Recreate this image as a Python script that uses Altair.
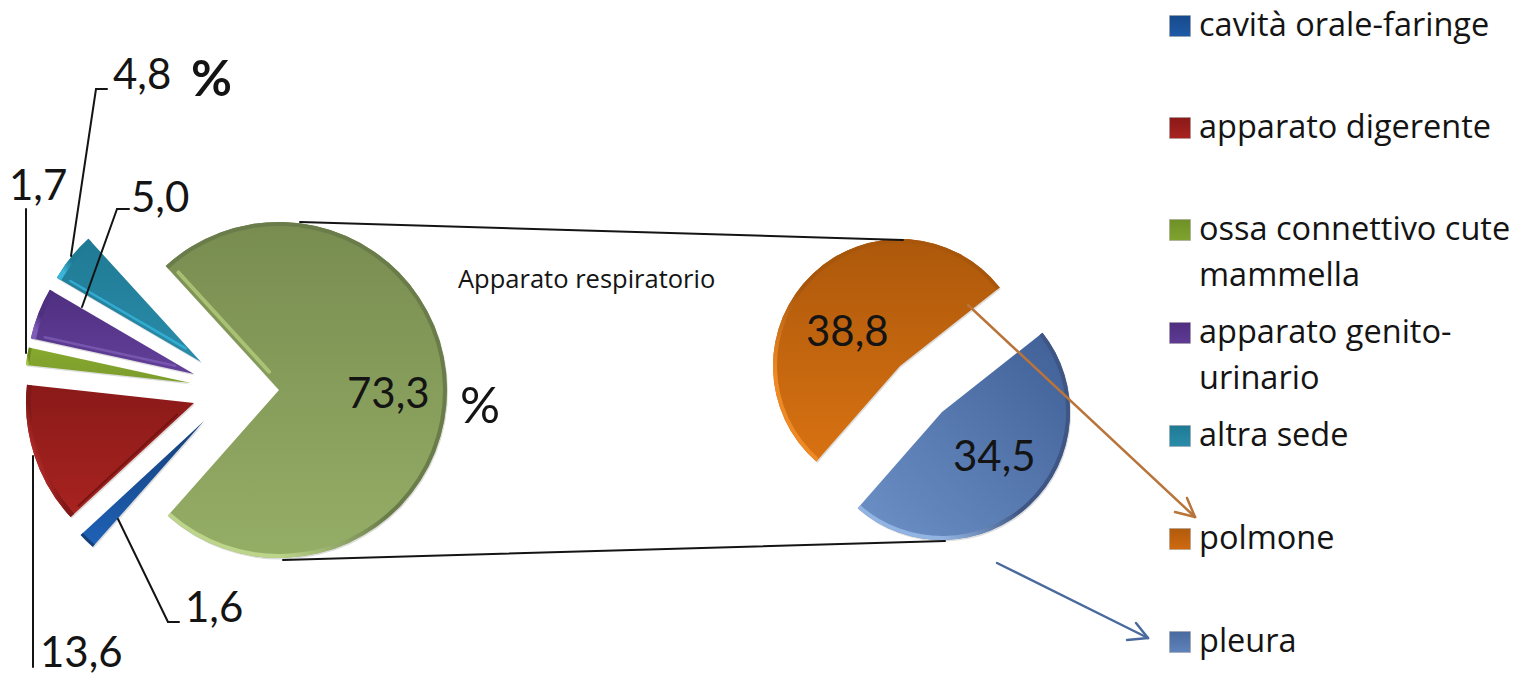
import math
import altair as alt
import pandas as pd

# Main pie: share of cases by site, percent
main_sites = ["apparato respiratorio", "cavità orale-faringe", "apparato digerente",
              "ossa connettivo cute mammella", "apparato genito-urinario", "altra sede"]
main_values = [73.3, 1.6, 13.6, 1.7, 5.0, 4.8]

# Secondary pie: breakdown of the respiratory slice
sub_sites = ["polmone", "pleura"]
sub_values = [38.8, 34.5]

legend_lines = [["cavità orale-faringe"], ["apparato digerente"],
                ["ossa connettivo cute", "mammella"], ["apparato genito-", "urinario"],
                ["altra sede"], ["polmone"], ["pleura"]]

FONT = "Lato"
WIDE_FONT = "Open Sans"
INK = "#141414"


def fmt(v):
    return f"{v:.1f}".replace(".", ",")


def grad(top, bottom, x1=0.0, y1=0.0, x2=0.0, y2=1.0):
    return {"gradient": "linear", "x1": x1, "y1": y1, "x2": x2, "y2": y2,
            "stops": [{"offset": 0, "color": top}, {"offset": 1, "color": bottom}]}


def rim_grad(dark, light):
    return {"gradient": "linear", "x1": 1, "y1": 0, "x2": 0, "y2": 1,
            "stops": [{"offset": 0, "color": dark},
                      {"offset": 0.55, "color": dark},
                      {"offset": 0.8, "color": light},
                      {"offset": 1, "color": light}]}


def segment(x, y, x2, y2, color=INK, width=2.0, opacity=1.0):
    return alt.Chart(pd.DataFrame({"k": [0]})).mark_rule(
        color=color, strokeWidth=width, opacity=opacity, strokeCap="round"
    ).encode(x=alt.value(x), y=alt.value(y), x2=alt.value(x2), y2=alt.value(y2))


def label(text, x, y, size, weight="normal", align="left", font=FONT):
    return alt.Chart(pd.DataFrame({"t": [text]})).mark_text(
        font=font, fontSize=size, fontWeight=weight, align=align,
        baseline="middle", color=INK
    ).encode(x=alt.value(x), y=alt.value(y), text="t:N")


def wedge(name, value, start_deg, sweep_deg, cx, cy, r, look):
    """One exploded slice: soft shadow, body, rim bevel and a lit straight edge."""
    a0, a1 = math.radians(start_deg), math.radians(start_deg + sweep_deg)
    df = pd.DataFrame({"site": [name], "value": [value], "a0": [a0], "a1": [a1]})
    theta = alt.Theta("a0:Q", scale=None, stack=None)
    theta2 = alt.Theta2("a1:Q")
    pos = dict(x=alt.value(cx), y=alt.value(cy), theta=theta, theta2=theta2)
    shadow_pos = dict(x=alt.value(cx + 1), y=alt.value(cy + 1.5), theta=theta, theta2=theta2)
    out = [
        alt.Chart(df).mark_arc(radius=r, fill="#666666", opacity=0.22).encode(**shadow_pos),
        alt.Chart(df).mark_arc(radius=r, fill=look["fill"]).encode(**pos),
        alt.Chart(df).mark_arc(radius=r, radius2=r - look.get("rim", 5), fill=look["edge"]).encode(**pos),
    ]
    if look.get("lit") is not None:
        a = a0 if look["lit"] == "start" else a1
        sign = 1 if look["lit"] == "start" else -1
        ux, uy = math.sin(a), -math.cos(a)
        px, py = math.cos(a) * sign, math.sin(a) * sign
        inset = look.get("inset", 3)
        out.append(segment(cx + ux * r * 0.12 + px * inset, cy + uy * r * 0.12 + py * inset,
                           cx + ux * r * 0.92 + px * inset, cy + uy * r * 0.92 + py * inset,
                           color=look["lit_color"], width=look.get("lit_w", 3), opacity=0.8))
    return out


looks = {
    "apparato respiratorio": {
        "fill": grad("#788c50", "#95ae66"), "edge": rim_grad("#6a7c4a", "#bcd58a"),
        "lit": "start", "lit_color": "#b4cc7c", "lit_w": 4, "inset": 5, "rim": 4},
    "cavità orale-faringe": {
        "fill": grad("#143f78", "#1f62b8"), "edge": rim_grad("#143f78", "#3b86e0"), "rim": 3},
    "apparato digerente": {
        "fill": grad("#8a1a18", "#a82320"), "edge": rim_grad("#7f1816", "#e03a38"),
        "lit": "start", "lit_color": "#6e1210", "lit_w": 2},
    "ossa connettivo cute mammella": {
        "fill": grad("#86a92e", "#7c9c2c"), "edge": rim_grad("#6a8a20", "#a6cc44"), "rim": 3},
    "apparato genito-urinario": {
        "fill": grad("#4f2f80", "#63409a"), "edge": rim_grad("#4f3080", "#7f5cb8"),
        "lit": "start", "lit_color": "#7d5db5", "lit_w": 2.5, "inset": 4},
    "altra sede": {
        "fill": grad("#1f7a94", "#2a8caa"), "edge": rim_grad("#1f7a94", "#3ab4d8"),
        "lit": "start", "lit_color": "#35b5dc", "lit_w": 2.5, "inset": 4},
    "polmone": {
        "fill": grad("#ac580b", "#d87212"), "edge": rim_grad("#a8560c", "#ee8a26"), "rim": 4},
    "pleura": {
        "fill": grad("#3f5f96", "#6d92c8", 1, 0, 0, 1), "edge": rim_grad("#3f5684", "#92b4e2"), "rim": 4},
}

# Placement of each exploded slice: tip of the wedge and its radius
anchors = {
    "apparato respiratorio": (279, 390, 168),
    "cavità orale-faringe": (204, 421, 168),
    "apparato digerente": (194, 403, 168),
    "ossa connettivo cute mammella": (191, 383, 166),
    "apparato genito-urinario": (194, 374, 167),
    "altra sede": (201, 362, 167),
    "polmone": (900, 366, 127),
    "pleura": (942, 412, 128),
}

layers = []

# Main pie, clockwise from the upper edge of the big slice
angle = 317.6
for site, val in zip(main_sites, main_values):
    sweep = val / sum(main_values) * 360
    cx, cy, r = anchors[site]
    layers += wedge(site, val, angle, sweep, cx, cy, r, looks[site])
    angle += sweep

# Secondary pie
angle = 221.2
for site, val in zip(sub_sites, sub_values):
    sweep = val / sum(sub_values) * 360
    cx, cy, r = anchors[site]
    layers += wedge(site, val, angle, sweep, cx, cy, r, looks[site])
    angle += sweep

# Lines joining the two pies
layers += [segment(300, 222, 903, 240), segment(283, 560, 945, 541)]

# Leader lines of the small slices
layers += [
    segment(71, 256, 96, 89), segment(96, 89, 107, 89),
    segment(82, 307, 117, 209), segment(117, 209, 129, 209),
    segment(26, 353, 26, 209),
    segment(33, 456, 33, 667),
    segment(118, 519, 168, 622), segment(168, 622, 179, 622),
]

# Arrows towards the legend entries
BROWN, SLATE = "#b8743a", "#4a6a9e"
layers += [
    segment(968, 305, 1195, 517, color=BROWN, width=2.5),
    segment(1195, 517, 1175, 512, color=BROWN, width=2.5),
    segment(1195, 517, 1187, 498, color=BROWN, width=2.5),
    segment(997, 563, 1148, 638, color=SLATE, width=2.5),
    segment(1148, 638, 1127, 640, color=SLATE, width=2.5),
    segment(1148, 638, 1136, 623, color=SLATE, width=2.5),
]

# Value labels
layers += [
    label(fmt(main_values[5]), 113, 76, 42),
    label("%", 191, 81, 50, weight="bold"),
    label(fmt(main_values[4]), 131, 199, 42),
    label(fmt(main_values[3]), 9, 187, 42),
    label(fmt(main_values[1]), 185, 609, 42),
    label(fmt(main_values[2]), 40, 654, 42),
    label(fmt(main_values[0]), 347, 395, 42),
    label("%", 460, 408, 50),
    label(fmt(sub_values[0]), 806, 333, 42),
    label(fmt(sub_values[1]), 953, 458, 42),
    label("Apparato respiratorio", 458, 280, 25.5, font=WIDE_FONT),
]

# Legend drawn by hand because its rows are unevenly spaced
swatches = [("#1f5aa6", "#174a8c"), ("#a82320", "#8a1a18"), ("#7fa32e", "#6f9028"),
            ("#5f3a94", "#4f2f80"), ("#2a8caa", "#1f7a94"), ("#d06a10", "#b05a0c"),
            ("#5f83bb", "#4a6a9e")]
legend_y = [25, 127, 229, 332, 435, 538, 641]
for lines, (c1, c2), y in zip(legend_lines, swatches, legend_y):
    layers.append(
        alt.Chart(pd.DataFrame({"k": [lines[0]]})).mark_square(
            size=441, fill=grad(c2, c1), stroke="#9a9a9a", strokeWidth=0.5, opacity=1
        ).encode(x=alt.value(1180), y=alt.value(y + 1))
    )
    for i, line in enumerate(lines):
        layers.append(label(line, 1199, y + i * 46 + 1, 32.5, font=WIDE_FONT))

chart = alt.layer(*layers).properties(
    width=1522, height=676, padding=0, autosize="none"
).configure_view(stroke=None)

chart.save("out.html", embed_options={"renderer": "svg", "actions": False})
